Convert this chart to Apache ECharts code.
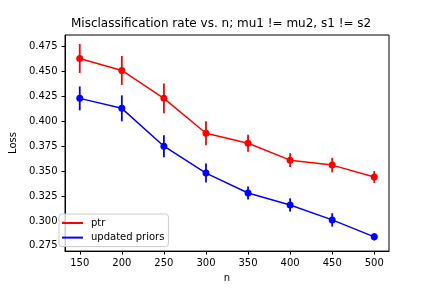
<!DOCTYPE html>
<html>
<head>
<meta charset="utf-8">
<script src="https://cdn.jsdelivr.net/npm/echarts@6/dist/echarts.min.js"></script>
<style>html,body{margin:0;padding:0;background:#fff}#c{width:432px;height:288px}</style>
</head>
<body>
<div id="c"></div>
<script>
var nValues = [150, 200, 250, 300, 350, 400, 450, 500];
var ptrMean = [0.463, 0.451, 0.423, 0.388, 0.378, 0.361, 0.356, 0.344];
var ptrErr = [0.0145, 0.0145, 0.015, 0.012, 0.0085, 0.007, 0.0073, 0.006];
var priorsMean = [0.423, 0.413, 0.375, 0.348, 0.328, 0.316, 0.301, 0.284];
var priorsErr = [0.012, 0.013, 0.011, 0.0095, 0.0065, 0.0067, 0.0067, 0.0037];
var xTicks = [150, 200, 250, 300, 350, 400, 450, 500];
var yTicks = [0.275, 0.300, 0.325, 0.350, 0.375, 0.400, 0.425, 0.450, 0.475];

var FONT = 'DejaVu Sans';
function pairs(xs, ys) { return xs.map(function (x, i) { return [x, ys[i]]; }); }
function errData(xs, ys, es) { return xs.map(function (x, i) { return [x, ys[i] - es[i], ys[i] + es[i]]; }); }
function errSeries(name, color, data) {
  return {
    type: 'custom', name: name + '_err', data: data, z: 2, silent: true,
    renderItem: function (params, api) {
      var lo = api.coord([api.value(0), api.value(1)]);
      var hi = api.coord([api.value(0), api.value(2)]);
      return { type: 'line', shape: { x1: lo[0], y1: lo[1], x2: hi[0], y2: hi[1] },
        style: { stroke: color, lineWidth: 1.8 } };
    }
  };
}
function lineSeries(name, color, data) {
  return {
    type: 'line', name: name, data: data, z: 3,
    symbol: 'circle', symbolSize: 7, showSymbol: true,
    lineStyle: { color: color, width: 1.5 },
    itemStyle: { color: color }
  };
}
var chart = echarts.init(document.getElementById('c'), null, { renderer: 'canvas' });
chart.setOption({
  animation: false,
  backgroundColor: '#fff',
  textStyle: { fontFamily: FONT },
  title: {
    text: 'Misclassification rate vs. n; mu1 != mu2, s1 != s2',
    left: 71, top: 18, padding: 0,
    textStyle: { fontFamily: FONT, fontSize: 12, fontWeight: 'normal', color: '#000' }
  },
  grid: { left: 54, right: 43, top: 35, bottom: 36, show: true, borderColor: '#000', borderWidth: 1, backgroundColor: 'transparent' },
  legend: {
    orient: 'vertical', left: 59, top: 214,
    data: ['ptr', 'updated priors'],
    icon: 'rect', itemWidth: 21, itemHeight: 2, itemGap: 2.6,
    padding: [3, 4, 3, 3],
    borderColor: '#cccccc', borderWidth: 1, borderRadius: 3, backgroundColor: 'rgba(255,255,255,0.8)',
    textStyle: { fontFamily: FONT, fontSize: 10, color: '#000', lineHeight: 12, padding: [0, 0, 0, 3] }
  },
  xAxis: {
    type: 'value', min: 132.5, max: 517.5,
    name: 'n', nameLocation: 'middle', nameGap: 19,
    nameTextStyle: { fontFamily: FONT, fontSize: 10, color: '#000' },
    axisLine: { show: true, lineStyle: { color: '#000', width: 1 } },
    axisTick: { show: true, inside: false, length: 3.5, lineStyle: { color: '#000' }, customValues: xTicks },
    axisLabel: { fontFamily: FONT, fontSize: 10, color: '#000', margin: 7, customValues: xTicks, formatter: function (v) { return String(v); } },
    splitLine: { show: false }
  },
  yAxis: {
    type: 'value', min: 0.2697, max: 0.4866,
    name: 'Loss', nameLocation: 'middle', nameGap: 43, nameRotate: 90,
    nameTextStyle: { fontFamily: FONT, fontSize: 10, color: '#000' },
    axisLine: { show: true, lineStyle: { color: '#000', width: 1 } },
    axisTick: { show: true, inside: false, length: 3.5, lineStyle: { color: '#000' }, customValues: yTicks },
    axisLabel: { fontFamily: FONT, fontSize: 10, color: '#000', margin: 7.5, customValues: yTicks, formatter: function (v) { return v.toFixed(3); } },
    splitLine: { show: false }
  },
  series: [
    errSeries('ptr', '#ff0000', errData(nValues, ptrMean, ptrErr)),
    lineSeries('ptr', '#ff0000', pairs(nValues, ptrMean)),
    errSeries('updated priors', '#0000ff', errData(nValues, priorsMean, priorsErr)),
    lineSeries('updated priors', '#0000ff', pairs(nValues, priorsMean))
  ]
});
</script>
</body>
</html>
